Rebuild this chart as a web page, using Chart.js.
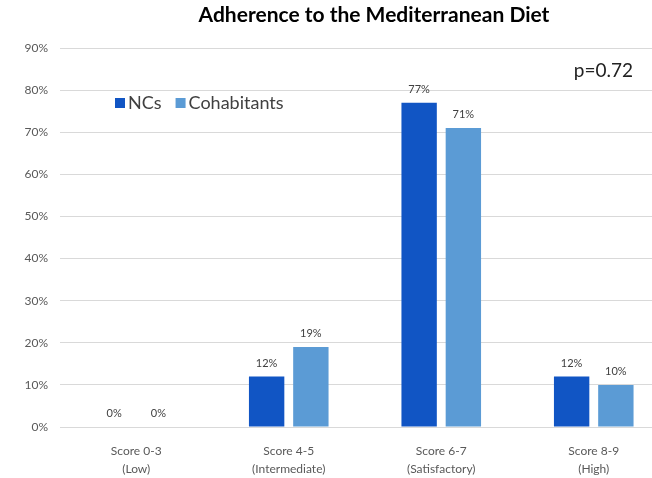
<!DOCTYPE html>
<html>
<head>
<meta charset="utf-8">
<script src="https://cdn.jsdelivr.net/npm/chart.js@4.4.1/dist/chart.umd.min.js"></script>
<style>
  html, body { margin: 0; padding: 0; background: #fff; }
  #wrap { width: 652px; height: 478px; overflow: hidden; position: relative; }
</style>
</head>
<body>
<div id="wrap">
  <canvas id="dietChart" width="746" height="478" style="width:746px;height:478px"></canvas>
</div>
<script>
const categories = [['Score 0-3', '(Low)'], ['Score 4-5', '(Intermediate)'], ['Score 6-7', '(Satisfactory)'], ['Score 8-9', '(High)']];
const ncsValues = [0, 12, 77, 12];
const cohabitantValues = [0, 19, 71, 10];
const yTickMax = 90;
const yTickStep = 10;
const titleText = 'Adherence to the Mediterranean Diet';
const pValueText = 'p=0.72';

const fontFamily = 'Lato, "Open Sans", sans-serif';

// value labels above each bar
const barLabels = {
    id: 'barLabels',
    afterDatasetsDraw(chart) {
        const ctx = chart.ctx;
        ctx.save();
        ctx.font = '11px ' + fontFamily;
        ctx.fillStyle = '#404040';
        ctx.textAlign = 'center';
        ctx.textBaseline = 'bottom';
        chart.data.datasets.forEach((ds, i) => {
            chart.getDatasetMeta(i).data.forEach((bar, j) => {
                ctx.fillText(ds.data[j] + '%', bar.x, bar.y - 8);
            });
        });
        ctx.restore();
    }
};

// title (centered on the uncropped slide), legend inside the plot, p value
const decorations = {
    id: 'decorations',
    afterDraw(chart) {
        const ctx = chart.ctx;
        const area = chart.chartArea;
        ctx.save();
        ctx.fillStyle = '#000';
        ctx.font = 'bold 21px ' + fontFamily;
        ctx.textAlign = 'center';
        ctx.textBaseline = 'middle';
        ctx.fillText(titleText, 374, 15);

        ctx.textAlign = 'left';
        ctx.font = '18px ' + fontFamily;
        let x = area.left + 55;
        const y = 103;
        chart.data.datasets.forEach(ds => {
            ctx.fillStyle = ds.backgroundColor;
            ctx.fillRect(x, y - 5, 10, 10);
            ctx.fillStyle = '#404040';
            ctx.fillText(ds.label, x + 13, y);
            x += 13 + ctx.measureText(ds.label).width + 14;
        });
        ctx.font = '19px ' + fontFamily;
        ctx.fillStyle = '#222';
        ctx.textAlign = 'right';
        ctx.fillText(pValueText, 633, 71);
        ctx.restore();
    }
};

document.addEventListener("DOMContentLoaded", function () {
    const ctx = document.getElementById('dietChart').getContext('2d');
    new Chart(ctx, {
        type: 'bar',
        data: {
            labels: categories,
            datasets: [{
                label: 'NCs',
                data: ncsValues,
                backgroundColor: '#1155c4'
            }, {
                label: 'Cohabitants',
                data: cohabitantValues,
                backgroundColor: '#5b9bd5'
            }]
        },
        options: {
            responsive: false,
            animation: false,
            categoryPercentage: 0.58,
            barPercentage: 0.8,
            layout: { padding: { left: 0, right: 76, top: 48, bottom: 0 } },
            plugins: {
                legend: { display: false },
                tooltip: { enabled: false },
                title: { display: false }
            },
            scales: {
                y: {
                    min: 0,
                    max: yTickMax,
                    ticks: {
                        stepSize: yTickStep,
                        callback: v => v + '%',
                        color: '#595959',
                        font: { family: fontFamily, size: 12 },
                        padding: 12
                    },
                    grid: { color: '#d9d9d9', drawTicks: false },
                    border: { display: false },
                    afterFit(scale) { scale.width = 60; }
                },
                x: {
                    grid: { display: false },
                    border: { color: '#d9d9d9' },
                    ticks: {
                        color: '#595959',
                        font: { family: fontFamily, size: 12, lineHeight: 1.5 },
                        maxRotation: 0,
                        padding: 7
                    },
                    afterFit(scale) { scale.height = 51; }
                }
            }
        },
        plugins: [barLabels, decorations]
    });
});
</script>
</body>
</html>
